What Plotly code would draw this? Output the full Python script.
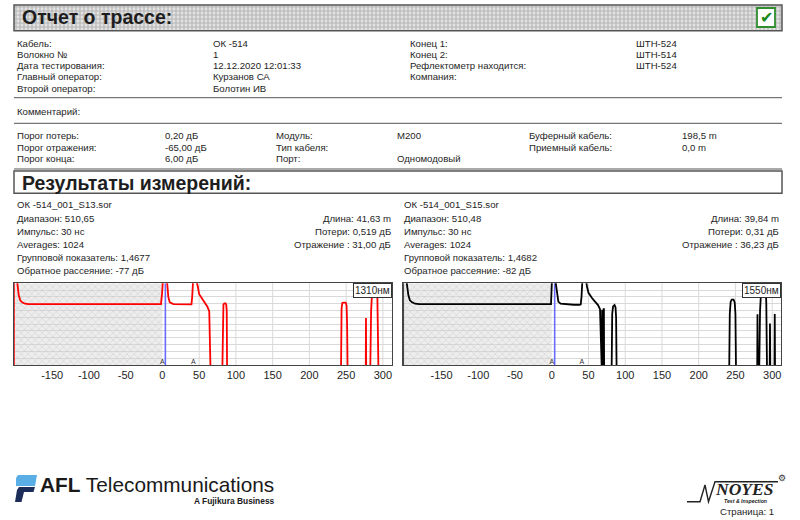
import plotly.graph_objects as go

W, H = 800, 520
SANS = "Liberation Sans, Arial, sans-serif"
SERIF = "Liberation Serif, Times New Roman, serif"
INK = "#1e1e1e"

# ---------------- data ----------------
TICK_VALUES = [-150, -100, -50, 0, 50, 100, 150, 200, 250, 300]
GRID_VALUES = [50, 100, 150, 200, 250, 300]
DIST_RANGE = [-202, 312]
LEVEL_RANGE = [0, 12]
LAUNCH_ZONE = [-202, 0]
CURSOR_POS = 4

dist_1310 = [-202.2, -202.2, -198.5, -197, -195.5, -193.5, -191, -187, -182, -150, -100, -50, -2, -0.5, 1, 4,
             6.5, 8, 10, 15, 25, 35, 39.5, 40.5, 42, 44.5, 46, 48, 50, 54, 58, 61, 63.7, 64.5, 65, 65.5,
             81.5, 82.2, 83, 84.5, 86, 86.8, 87.5, 88, 243, 243.8, 244.8, 246.5, 249.5, 250.6, 251.3, 252,
             276.7, 277, 277.3, 282.8, 284, 285.5, 288, 290, 291.5, 292.5, 293.5, 294, 312]
level_1310 = [-1, 13, 13, 11.5, 10.2, 9.5, 9.2, 9.0, 8.95, 8.95, 8.95, 8.95, 8.95, 10.5, 13, 13,
              12, 10, 9.2, 8.95, 8.9, 8.85, 8.9, 10, 13, 13, 12.5, 11.6, 10.4, 9.7, 9.1, 8.6, 7.9, 5, 0, -1,
              -1, 8, 8.9, 9.05, 9.05, 8.9, 8, -1, -1, 8.3, 9.1, 9.15, 9.15, 8.7, 6, -1,
              -1, 6.9, -1, -1, 8, 11, 13, 13, 12.5, 10, 5, -1, -1]
marks_1310 = [0, 42]

dist_1550 = [-202.2, -202.2, -198.5, -197, -195, -193, -190, -186, -180, -150, -100, -50, -1, 0.5, 2, 5.5,
             7, 9, 12, 20, 30, 38, 39.5, 40.5, 42, 45, 46.5, 48, 50, 55, 60, 63, 65.7, 66.3, 67, 67.5,
             68.2, 68.6, 69, 69.6, 70.2, 70.7, 71, 71.3, 81.5, 82.3, 83.5, 85.5, 86.8, 87.6, 88.3,
             241.5, 242.3, 243.5, 245, 247.5, 249, 250, 250.8, 279.6, 280, 280.4, 282.3, 283.5, 285,
             287.5, 289.5, 291, 292, 293, 296.6, 297, 297.4, 303.1, 303.5, 303.9, 312]
level_1550 = [-1, 13, 13, 11.5, 10.2, 9.5, 9.2, 9.0, 8.95, 8.95, 8.95, 8.95, 8.95, 13, 13, 12,
              10.5, 9.3, 9.0, 8.9, 8.85, 8.85, 8.9, 10, 13, 13, 12.5, 11.5, 10.6, 9.8, 9.2, 8.8, 8.2, 6, 2, -1,
              -1, 8.0, 8.0, -1, -1, 8.2, 8.2, -1, -1, 7.5, 8.6, 8.8, 8.5, 7, -1,
              -1, 7.5, 9.3, 9.6, 9.6, 9.2, 7.5, -1, -1, 7.45, -1, -1, 8, 11,
              13, 13, 12, 9, -1, -1, 6.1, -1, -1, 7.5, -1, -1]
marks_1550 = [0, 41]

WAVELENGTHS = ["1310нм", "1550нм"]
TRACE_COLORS = ["#ff0000", "#000000"]

info_left_labels = ["Кабель:", "Волокно №", "Дата тестирования:", "Главный оператор:", "Второй оператор:"]
info_left_values = ["ОК -514", "1", "12.12.2020 12:01:33", "Курзанов СА", "Болотин ИВ"]
info_right_labels = ["Конец 1:", "Конец 2:", "Рефлектометр находится:", "Компания:"]
info_right_values = ["ШТН-524", "ШТН-514", "ШТН-524", ""]

thr_labels_1 = ["Порог потерь:", "Порог отражения:", "Порог конца:"]
thr_values_1 = ["0,20 дБ", "-65,00 дБ", "6,00 дБ"]
thr_labels_2 = ["Модуль:", "Тип кабеля:", "Порт:"]
thr_values_2 = ["M200", "", "Одномодовый"]
thr_labels_3 = ["Буферный кабель:", "Приемный кабель:"]
thr_values_3 = ["198,5 m", "0,0 m"]

res_left = ["ОК -514_001_S13.sor", "Диапазон: 510,65", "Импульс: 30 нс", "Averages: 1024",
            "Групповой показатель: 1,4677", "Обратное рассеяние: -77 дБ"]
res_left_right = ["Длина: 41,63 m", "Потери: 0,519 дБ", "Отражение : 31,00 дБ"]
res_right = ["ОК -514_001_S15.sor", "Диапазон: 510,48", "Импульс: 30 нс", "Averages: 1024",
             "Групповой показатель: 1,4682", "Обратное рассеяние: -82 дБ"]
res_right_right = ["Длина: 39,84 m", "Потери: 0,31 дБ", "Отражение : 36,23 дБ"]

assert len(dist_1310) == len(level_1310) and len(dist_1550) == len(level_1550)

# ---------------- helpers ----------------
annotations, shapes = [], []


def text(x, y, s, size=9.6, anchor="left", family=SANS, color=INK):
    off = -2 if anchor == "left" else (2 if anchor == "right" else 0)
    annotations.append(dict(xref="paper", yref="paper", x=(x + off) / W, y=1 - y / H, text=s,
                            showarrow=False, xanchor=anchor, yanchor="middle",
                            font=dict(size=size, family=family, color=color)))


def hline(y, x0=14, x1=782, color="#555", width=1):
    shapes.append(dict(type="line", xref="paper", yref="paper", x0=x0 / W, x1=x1 / W,
                       y0=1 - y / H, y1=1 - y / H, line=dict(color=color, width=width)))


def rect(x0, y0, x1, y1, color="#555", width=1.5, fill="rgba(0,0,0,0)"):
    shapes.append(dict(type="rect", xref="paper", yref="paper", x0=x0 / W, x1=x1 / W,
                       y0=1 - y1 / H, y1=1 - y0 / H, line=dict(color=color, width=width), fillcolor=fill))


def path(points, color, fill=None, width=0):
    d = "M " + " L ".join(f"{x / W:.5f},{1 - y / H:.5f}" for x, y in points)
    if fill:
        d += " Z"
    shapes.append(dict(type="path", xref="paper", yref="paper", path=d,
                       fillcolor=fill or "rgba(0,0,0,0)", line=dict(color=color, width=width)))


# ---------------- header ----------------
fig = go.Figure()
fig.add_trace(go.Scatter(x=[0, 1, 1, 0], y=[0, 0, 1, 1], xaxis="x3", yaxis="y3", mode="lines",
                         fill="toself", line=dict(width=0), hoverinfo="skip",
                         fillcolor="#cfcfcf",
                         fillpattern=dict(shape="+", size=4, solidity=0.5, fgcolor="#8a8a8a", bgcolor="#e2e2e2")))
rect(14, 5, 782, 30.7)
text(22, 17.5, "<b>Отчет о трассе:</b>", size=19.5)
rect(757, 8, 775, 27, color="#2f8f2f", width=1.8, fill="white")
text(766, 17.5, "✔", size=16, anchor="center", family="DejaVu Sans", color="#1a8a1a")

ROW0, ROW_STEP = 43.3, 11.2
for i, (lab, val) in enumerate(zip(info_left_labels, info_left_values)):
    text(17, ROW0 + i * ROW_STEP, lab)
    text(213, ROW0 + i * ROW_STEP, val)
for i, (lab, val) in enumerate(zip(info_right_labels, info_right_values)):
    text(410, ROW0 + i * ROW_STEP, lab)
    if val:
        text(636, ROW0 + i * ROW_STEP, val)

hline(97.7)
text(17, 111.7, "Комментарий:")
hline(123.3)

THR0, THR_STEP = 136, 11
for labs, vals, xl, xv in [(thr_labels_1, thr_values_1, 17, 165), (thr_labels_2, thr_values_2, 276, 397),
                           (thr_labels_3, thr_values_3, 529, 682)]:
    for i, (lab, val) in enumerate(zip(labs, vals)):
        text(xl, THR0 + i * THR_STEP, lab)
        if val:
            text(xv, THR0 + i * THR_STEP, val)
hline(169)

rect(14, 171, 782, 193.3, fill="white")
text(22, 182.5, "<b>Результаты измерений:</b>", size=19.5)

RES0, RES_STEP = 205, 13.1
for lines, rights, xl, xr in [(res_left, res_left_right, 17, 391), (res_right, res_right_right, 404, 779)]:
    for i, s in enumerate(lines):
        text(xl, RES0 + i * RES_STEP, s)
    for i, s in enumerate(rights):
        text(xr, RES0 + (i + 1) * RES_STEP, s, anchor="right")

# ---------------- OTDR traces ----------------
panels = [("x", "y", dist_1310, level_1310, marks_1310), ("x2", "y2", dist_1550, level_1550, marks_1550)]
for k, (xa, ya, dist, level, marks) in enumerate(panels):
    fig.add_trace(go.Scatter(x=[LAUNCH_ZONE[0], LAUNCH_ZONE[1], LAUNCH_ZONE[1], LAUNCH_ZONE[0]],
                             y=[LEVEL_RANGE[0], LEVEL_RANGE[0], LEVEL_RANGE[1], LEVEL_RANGE[1]],
                             xaxis=xa, yaxis=ya, mode="lines", fill="toself", line=dict(width=0),
                             fillcolor="rgba(200,200,200,0.45)", hoverinfo="skip",
                             fillpattern=dict(shape="x", size=5, solidity=0.15, fgcolor="#9c9c9c",
                                              bgcolor="rgba(215,215,215,0.45)")))
    fig.add_trace(go.Scatter(x=[CURSOR_POS, CURSOR_POS], y=LEVEL_RANGE, xaxis=xa, yaxis=ya, mode="lines",
                             line=dict(color="#6a6aff", width=1.6), hoverinfo="skip"))
    fig.add_trace(go.Scatter(x=dist, y=level, xaxis=xa, yaxis=ya, mode="lines",
                             line=dict(color=TRACE_COLORS[k], width=1.8)))
    fig.add_trace(go.Scatter(x=marks, y=[0.45] * len(marks), xaxis=xa, yaxis=ya, mode="text",
                             text=["A"] * len(marks), textfont=dict(size=7, color="#333", family=SANS),
                             hoverinfo="skip"))
    for g in GRID_VALUES:
        shapes.append(dict(type="line", xref=xa, yref=ya + " domain", x0=g, x1=g, y0=0, y1=1,
                           line=dict(color="#d9d9d9", width=1), layer="below"))
    annotations.append(dict(xref=xa + " domain", yref=ya + " domain", x=1, y=1, xanchor="right",
                            yanchor="top", text=WAVELENGTHS[k], showarrow=False, bgcolor="white",
                            bordercolor="#333", borderwidth=1, borderpad=1,
                            font=dict(size=10, family=SANS, color=INK)))

# ---------------- footer logos ----------------
path([(18, 475), (37, 475), (35, 486), (16, 486), (16, 478)], "#5aaee6", fill="#5aaee6")
path([(19, 487), (35, 487), (33.5, 492), (24, 492), (21.5, 502), (15, 502), (17, 490)], "#1c2d5a", fill="#1c2d5a")
text(40, 484.5, "<b>AFL</b> Telecommunications", size=20.8, color="#1a1a1a")
text(275, 500.5, "<b>A Fujikura Business</b>", size=8.4, anchor="right", color="#1a1a1a")

path([(687, 501.7), (700, 501.7), (705, 485), (708.5, 501.7), (715, 481.7), (778, 481.7)], "#222", width=1.4)
text(782, 478, "⚙", size=9, anchor="center", family="DejaVu Sans", color="#333")
text(744, 489, "<b><i>NOYES</i></b>", size=17.5, anchor="center", family=SERIF, color="#222")
text(745, 501, "<b><i>Test &amp; Inspection</i></b>", size=5.2, anchor="center", color="#222")
text(774, 511, "Страница: 1", size=9.6, anchor="right")

# ---------------- layout ----------------
def x_axis(dom, anchor):
    return dict(domain=dom, anchor=anchor, range=DIST_RANGE, tickvals=TICK_VALUES,
                ticktext=[str(v) for v in TICK_VALUES], showgrid=False, zeroline=False, showline=True,
                mirror=True, linecolor="#444", linewidth=1, ticks="", fixedrange=True,
                tickfont=dict(size=11, family=SANS, color=INK))


def y_axis(anchor):
    return dict(domain=[1 - 365 / H, 1 - 283.3 / H], anchor=anchor, range=LEVEL_RANGE, dtick=1,
                showgrid=True, gridcolor="#d9d9d9", gridwidth=1, zeroline=False, showticklabels=False,
                showline=True, mirror=True, linecolor="#444", linewidth=1, ticks="", fixedrange=True)


fig.update_layout(
    width=W, height=H, margin=dict(l=0, r=0, t=0, b=0), paper_bgcolor="white", plot_bgcolor="white",
    showlegend=False, font=dict(family=SANS, color=INK),
    xaxis=x_axis([14 / W, 391.7 / W], "y"), yaxis=y_axis("x"),
    xaxis2=x_axis([403.3 / W, 781 / W], "y2"), yaxis2=y_axis("x2"),
    xaxis3=dict(domain=[14 / W, 782 / W], anchor="y3", range=[0, 1], visible=False, fixedrange=True),
    yaxis3=dict(domain=[1 - 30.7 / H, 1 - 5 / H], anchor="x3", range=[0, 1], visible=False, fixedrange=True),
    annotations=annotations, shapes=shapes,
)

fig.write_html("out.html", config={"displayModeBar": False},
               post_script="document.body.style.margin='0';document.body.style.overflow='hidden';")
